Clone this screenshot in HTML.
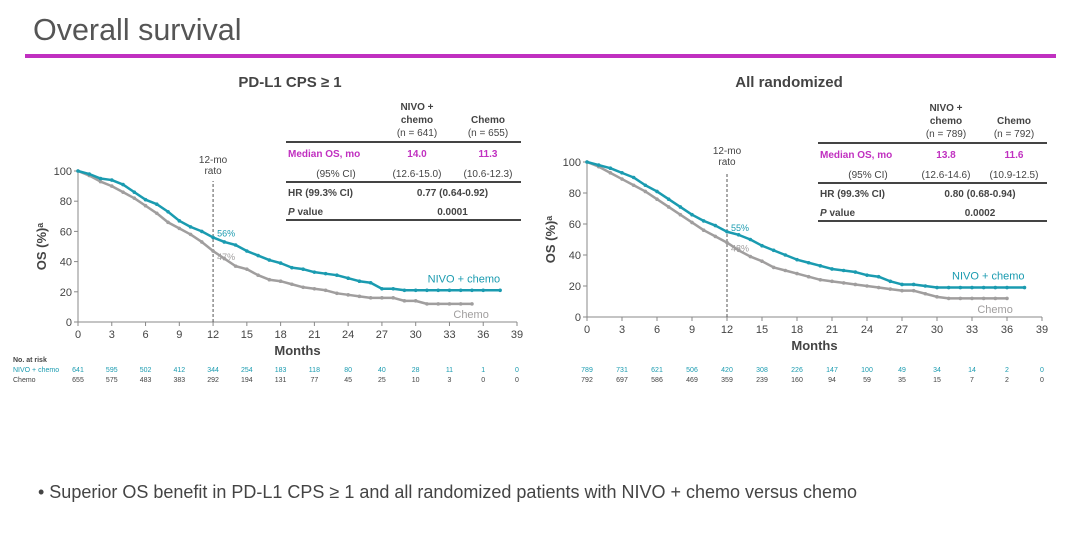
<!DOCTYPE html>
<html><head><meta charset="utf-8">
<style>
body{margin:0;width:1080px;height:539px;background:#fff;font-family:"Liberation Sans",sans-serif;overflow:hidden;position:relative}
#title{position:absolute;left:33px;top:13px;font-size:30.5px;color:#555;margin:0;font-weight:normal}
#rule{position:absolute;left:25px;top:54px;width:1031px;height:4px;background:#c030c0}
#bullet{position:absolute;left:38px;top:482px;font-size:18px;color:#444}
svg{position:absolute;left:0;top:0}
</style></head><body>
<h1 id="title">Overall survival</h1>
<div id="rule"></div>
<div id="bullet">• Superior OS benefit in PD-L1 CPS ≥ 1 and all randomized patients with NIVO + chemo versus chemo</div>
<svg id="svg" width="1080" height="539"></svg>
<script>
const months=[0,1,2,3,4,5,6,7,8,9,10,11,12,13,14,15,16,17,18,19,20,21,22,23,24,25,26,27,28,29,30,31,32,33,34,35,36,37.5];
const leftNivo=[100,98,95,94,91,86,81,78,73,67,63,60,56,53,51,47,44,41,39,36,35,33,32,31,29,27,26,22,22,21,21,21,21,21,21,21,21,21];
const leftChemo=[100,97,93,90,86,82,77,72,66,62,58,53,47,42,37,35,31,28,27,25,23,22,21,19,18,17,16,16,16,14,14,12,12,12,12,12];
const rightNivo=[100,98,96,93,90,85,81,76,71,66,62,59,55,53,50,46,43,40,37,35,33,31,30,29,27,26,23,21,21,20,19,19,19,19,19,19,19,19];
const rightChemo=[100,97,93,89,85,81,76,71,66,61,56,52,48,43,39,36,32,30,28,26,24,23,22,21,20,19,18,17,17,15,13,12,12,12,12,12,12];
const xTicks=[0,3,6,9,12,15,18,21,24,27,30,33,36,39];
const yTicks=[0,20,40,60,80,100];
const leftRiskNivo=[641,595,502,412,344,254,183,118,80,40,28,11,1,0];
const leftRiskChemo=[655,575,483,383,292,194,131,77,45,25,10,3,0,0];
const rightRiskNivo=[789,731,621,506,420,308,226,147,100,49,34,14,2,0];
const rightRiskChemo=[792,697,586,469,359,239,160,94,59,35,15,7,2,0];
const TEAL="#1a9bb0",GRAY="#a09e9e",MAG="#c030c0",TXT="#444";
const svg=document.getElementById('svg');
function el(t,a,txt){const e=document.createElementNS('http://www.w3.org/2000/svg',t);for(const k in a)e.setAttribute(k,a[k]);if(txt!==undefined)e.textContent=txt;svg.appendChild(e);return e;}
function chart(o){
 const X=m=>o.x0+(o.x1-o.x0)*m/39, Y=v=>o.y0-(o.y0-o.y1)*v/100;
 let e;
 e=el('text',{x:o.tx,y:o.ty,'font-size':15,'font-weight':'bold',fill:'#444','text-anchor':'middle'},o.title);
 
 
 e=el('line',{x1:X(0),y1:o.y0,x2:X(39),y2:o.y0,stroke:'#888','stroke-width':1});
 
 
 e=el('line',{x1:X(0),y1:o.y0,x2:X(0),y2:Y(100),stroke:'#888','stroke-width':1});
 
 
 xTicks.forEach((t,i)=>{
  el('line',{x1:X(t),y1:o.y0,x2:X(t),y2:o.y0+4,stroke:'#888'});
  e=el('text',{x:X(t),y:o.y0+16,'font-size':11,fill:TXT,'text-anchor':'middle'},t);
  
  
 });
 yTicks.forEach(t=>{
  el('line',{x1:X(0)-4,y1:Y(t),x2:X(0),y2:Y(t),stroke:'#888'});
  e=el('text',{x:X(0)-6,y:Y(t)+4,'font-size':11,fill:TXT,'text-anchor':'end'},t);
  
  
 });
 e=el('text',{x:X(19.5),y:o.y0+33,'font-size':13,'font-weight':'bold',fill:TXT,'text-anchor':'middle'},'Months');
 
 
 e=el('text',{x:0,y:0,'font-size':13,'font-weight':'bold',fill:TXT,'text-anchor':'middle',transform:`translate(${X(0)-32},${Y(50)}) rotate(-90)`},'OS (%)ᵃ');
 
 
 e=el('line',{x1:X(12),y1:Y(0),x2:X(12),y2:Y(100)+10,stroke:'#555','stroke-dasharray':'3,2'});
 
 
 el('text',{x:X(12),y:Y(100)-8,'font-size':10,fill:TXT,'text-anchor':'middle'},'12-mo');
 el('text',{x:X(12),y:Y(100)+3,'font-size':10,fill:TXT,'text-anchor':'middle'},'rato');
 function series(vals,col,name){
  let d='';vals.forEach((v,i)=>{const x=X(months[i]),y=Y(v);d+=(i?' L':'M')+x+' '+y;});
  const p=el('path',{d,fill:'none',stroke:col,'stroke-width':2.5,'stroke-linejoin':'round'});
  
  
  vals.forEach((v,i)=>{
   const c=el('circle',{cx:X(months[i]),cy:Y(v),r:1.8,fill:col});
   
   
  });
 }
 series(o.chemo,GRAY,'chemo');
 series(o.nivo,TEAL,'nivo-chemo');
 el('text',{x:X(12)+4,y:Y(o.nivo[12])-1,'font-size':9,fill:TEAL},o.nivo[12]+'%');
 el('text',{x:X(12)+4,y:Y(o.chemo[12])+9,'font-size':9,fill:GRAY},o.chemo[12]+'%');
 e=el('text',{x:X(37.5),y:Y(o.nivo[o.nivo.length-1])-8,'font-size':11,fill:TEAL,'text-anchor':'end'},'NIVO + chemo');
 
 
 e=el('text',{x:X(36.5),y:Y(0)-4,'font-size':11,fill:GRAY,'text-anchor':'end'},'Chemo');
 
 
 if(o.showRiskLabel){
  el('text',{x:13,y:o.ry-10,'font-size':7,'font-weight':'bold',fill:TXT},'No. at risk');
  el('text',{x:13,y:o.ry,'font-size':7,fill:TEAL},'NIVO + chemo');
  el('text',{x:13,y:o.ry+10,'font-size':7,fill:TXT},'Chemo');
 }
 xTicks.forEach((t,i)=>{
  e=el('text',{x:X(t),y:o.ry,'font-size':7,fill:TEAL,'text-anchor':'middle'},o.rn[i]);
  
  
  e=el('text',{x:X(t),y:o.ry+10,'font-size':7,fill:TXT,'text-anchor':'middle'},o.rc[i]);
  
  
 });
 const t=o.tab, L=t.l, R=t.r, c1=t.c1, c2=t.c2;
 const hy=t.top;
 el('text',{x:c1,y:hy,'font-size':10,'font-weight':'bold',fill:TXT,'text-anchor':'middle'},'NIVO +');
 el('text',{x:c1,y:hy+13,'font-size':10,'font-weight':'bold',fill:TXT,'text-anchor':'middle'},'chemo');
 el('text',{x:c1,y:hy+26,'font-size':10,fill:TXT,'text-anchor':'middle'},`(n = ${t.n1})`);
 el('text',{x:c2,y:hy+13,'font-size':10,'font-weight':'bold',fill:TXT,'text-anchor':'middle'},'Chemo');
 el('text',{x:c2,y:hy+26,'font-size':10,fill:TXT,'text-anchor':'middle'},`(n = ${t.n2})`);
 el('line',{x1:L,y1:hy+32,x2:R,y2:hy+32,stroke:'#444','stroke-width':2});
 el('text',{x:L+2,y:hy+47,'font-size':10,'font-weight':'bold',fill:MAG},'Median OS, mo');
 el('text',{x:c1,y:hy+47,'font-size':10,'font-weight':'bold',fill:MAG,'text-anchor':'middle'},t.m1);
 el('text',{x:c2,y:hy+47,'font-size':10,'font-weight':'bold',fill:MAG,'text-anchor':'middle'},t.m2);
 el('text',{x:L+50,y:hy+67,'font-size':10,fill:TXT,'text-anchor':'middle'},'(95% CI)');
 el('text',{x:c1,y:hy+67,'font-size':10,fill:TXT,'text-anchor':'middle'},t.ci1);
 el('text',{x:c2,y:hy+67,'font-size':10,fill:TXT,'text-anchor':'middle'},t.ci2);
 el('line',{x1:L,y1:hy+72,x2:R,y2:hy+72,stroke:'#444','stroke-width':2});
 el('text',{x:L+2,y:hy+86,'font-size':10,'font-weight':'bold',fill:TXT},'HR (99.3% CI)');
 el('text',{x:(c1+c2)/2,y:hy+86,'font-size':10,'font-weight':'bold',fill:TXT,'text-anchor':'middle'},t.hr);
 el('text',{x:L+2,y:hy+105,'font-size':10,'font-weight':'bold',fill:TXT},'P value').innerHTML='<tspan font-style="italic">P</tspan> value';
 el('text',{x:(c1+c2)/2,y:hy+105,'font-size':10,'font-weight':'bold',fill:TXT,'text-anchor':'middle'},t.p);
 el('line',{x1:L,y1:hy+110,x2:R,y2:hy+110,stroke:'#444','stroke-width':2});
}
chart({x0:78,x1:517,y0:322,y1:171,tx:290,ty:87,title:'PD-L1 CPS ≥ 1',nivo:leftNivo,chemo:leftChemo,rn:leftRiskNivo,rc:leftRiskChemo,ry:372,showRiskLabel:true,
 tab:{l:286,r:521,c1:417,c2:488,top:110,n1:641,n2:655,m1:'14.0',m2:'11.3',ci1:'(12.6-15.0)',ci2:'(10.6-12.3)',hr:'0.77 (0.64-0.92)',p:'0.0001'}});
chart({x0:587,x1:1042,y0:317,y1:162,tx:789,ty:87,title:'All randomized',nivo:rightNivo,chemo:rightChemo,rn:rightRiskNivo,rc:rightRiskChemo,ry:372,showRiskLabel:false,
 tab:{l:818,r:1047,c1:946,c2:1014,top:111,n1:789,n2:792,m1:'13.8',m2:'11.6',ci1:'(12.6-14.6)',ci2:'(10.9-12.5)',hr:'0.80 (0.68-0.94)',p:'0.0002'}});
</script>
</body></html>
